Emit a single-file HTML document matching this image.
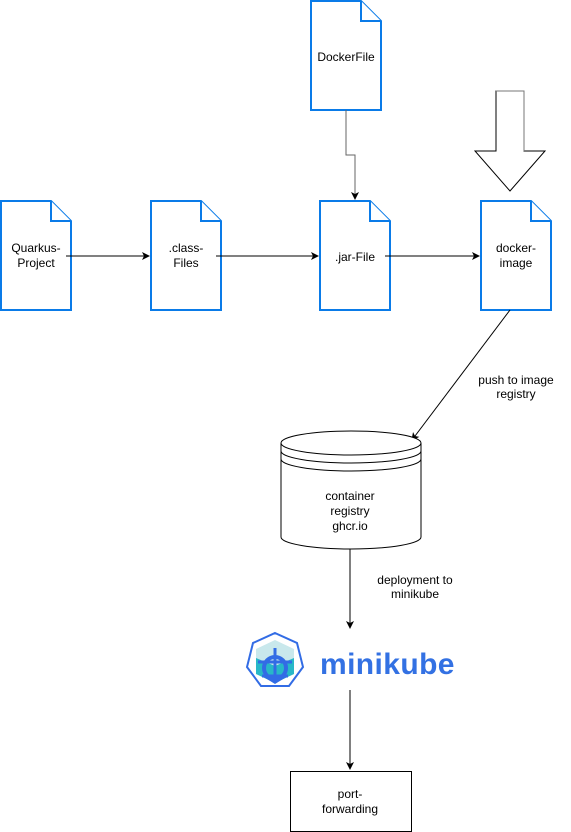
<!DOCTYPE html>
<html><head><style>body{margin:0;background:#fff}svg{display:block}text{font-family:"Liberation Sans",sans-serif;font-size:12px;fill:#000}</style></head><body>
<svg width="571" height="832" viewBox="0 0 571 832">
<defs><marker id="a" markerWidth="8" markerHeight="8" refX="7" refY="4" orient="auto" markerUnits="userSpaceOnUse"><path d="M0,0 L8,4 L0,8 L2,4 Z" fill="#000"/></marker></defs>
<g fill="#fff" stroke="#0a7be8" stroke-width="2">
<path d="M1,201 H51 L71,221 V310 H1 Z"/><path d="M51,201 V221 H71"/>
<path d="M151,201 H201 L221,221 V310 H151 Z"/><path d="M201,201 V221 H221"/>
<path d="M320,201 H370 L390,221 V310 H320 Z"/><path d="M370,201 V221 H390"/>
<path d="M481,201 H531 L551,221 V310 H481 Z"/><path d="M531,201 V221 H551"/>
<path d="M311,1 H361 L381,21 V110 H311 Z"/><path d="M361,1 V21 H381"/>
</g>
<g stroke="#000" fill="none" stroke-width="1">
<path d="M66,256 H149" marker-end="url(#a)"/>
<path d="M216,256 H318" marker-end="url(#a)"/>
<path d="M385,256 H479" marker-end="url(#a)"/>
<path d="M346,110 V155 H355 V199" stroke="#666" marker-end="url(#a)"/>
<path d="M510,310 L412,440" marker-end="url(#a)"/>
<path d="M350,549 V628" marker-end="url(#a)"/>
<path d="M350,690 V769" marker-end="url(#a)"/>
<path d="M496,91 H524 V151 H545 L510,191 L475,151 H496 Z" fill="#fff" stroke="#000"/>
<path d="M496,91 H524 V151" stroke="#777"/>
</g>
<g fill="#fff" stroke="#000">
<path d="M281,443 A70,12 0 0 1 421,443 V537 A70,12 0 0 1 281,537 Z"/>
<path d="M281,443 A70,12 0 0 0 421,443" fill="none"/>
<path d="M281,451 A70,12 0 0 0 421,451" fill="none"/>
<path d="M281,459 A70,12 0 0 0 421,459" fill="none"/>
<rect x="290.5" y="771.5" width="121" height="60"/>
</g>
<g text-anchor="middle">
<text x="36" y="252">Quarkus-</text><text x="36" y="267">Project</text>
<text x="186" y="252">.class-</text><text x="186" y="267">Files</text>
<text x="355" y="261">.jar-File</text>
<text x="516" y="252">docker-</text><text x="516" y="267">image</text>
<text x="346" y="61">DockerFile</text>
<text x="516" y="384">push to image</text><text x="516" y="398">registry</text>
<text x="350" y="500">container</text><text x="350" y="515">registry</text><text x="350" y="530">ghcr.io</text>
<text x="415" y="584">deployment to</text><text x="415" y="598">minikube</text>
<text x="350" y="798">port-</text><text x="350" y="813">forwarding</text>
</g>
<g>
<path d="M275,633 L297,643 L303,667 L289,686 L261,686 L247,667 L253,643 Z" fill="#fff" stroke="#326ce5" stroke-width="2"/>
<path d="M275,640 L294,649 L294,674 L275,683 L256,674 L256,649 Z" fill="#c9e8ec"/>
<path d="M256,658 L275,666 L294,658 L294,674 L275,683 L256,674 Z" fill="#28b8c8"/>
<circle cx="275" cy="668" r="11" fill="none" stroke="#326ce5" stroke-width="4"/>
<path d="M275,648 V683 M258,662 L292,662 M262,676 L288,676" stroke="#326ce5" stroke-width="3"/>
<path d="M262,676 L275,684 L288,676 Z" fill="#326ce5"/>
<text x="320" y="674" style="font-size:30px;font-weight:bold;fill:#3371e3;letter-spacing:0.4px">minikube</text>
</g>
</svg>
</body></html>
